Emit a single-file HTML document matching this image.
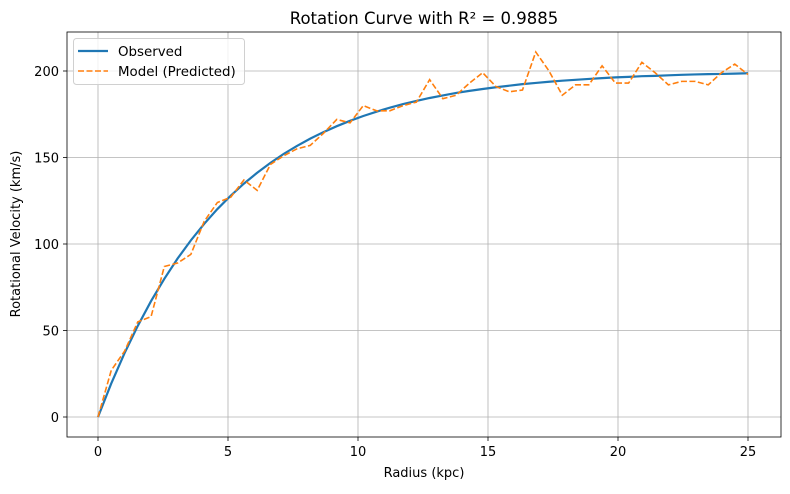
<!DOCTYPE html>
<html><head><meta charset="utf-8"><style>
body{margin:0;background:#fff;font-family:"DejaVu Sans","Liberation Sans",sans-serif}
svg text{font-family:"DejaVu Sans","Liberation Sans",sans-serif;fill:#000}
</style></head><body>
<svg id="chart" width="790" height="490" xmlns="http://www.w3.org/2000/svg">
<rect x="0" y="0" width="790" height="490" fill="#fff"/>
<text x="424" y="24" font-size="16.5" text-anchor="middle">Rotation Curve with R² = 0.9885</text>
<text x="424" y="477" font-size="13" text-anchor="middle">Radius (kpc)</text>
<text x="20" y="234" font-size="13" text-anchor="middle" transform="rotate(-90 20 234)">Rotational Velocity (km/s)</text>
<g id="grid"></g><g id="series"></g><g id="axes"></g>
<g>
<rect x="73.5" y="38.5" width="171" height="46" fill="#fff" fill-opacity="0.8" stroke="#d0d0d0" rx="3"/>
<line x1="78" y1="51" x2="108" y2="51" stroke="#1f77b4" stroke-width="2.2"/>
<text x="118" y="56" font-size="13.4">Observed</text>
<line x1="78" y1="71" x2="108" y2="71" stroke="#ff7f0e" stroke-width="1.6" stroke-dasharray="6,2.5"/>
<text x="118" y="76" font-size="13.4">Model (Predicted)</text>
</g>
</svg>
<script>
const xTicks=[0,5,10,15,20,25];
const yTicks=[0,50,100,150,200];
const observed=[0,19.4,36.9,52.7,67.0,79.9,91.6,102.1,111.6,120.2,127.9,134.9,141.2,146.9,152.1,156.7,160.9,164.7,168.1,171.2,174.0,176.5,178.8,180.9,182.7,184.4,185.9,187.3,188.5,189.6,190.6,191.5,192.4,193.1,193.8,194.4,194.9,195.4,195.9,196.3,196.6,197.0,197.2,197.5,197.8,198.0,198.2,198.3,198.5,198.7];
const model=[0,27,38,55,58,87,89,94,113,124,127,137,131,146,151,155,157,164,172,170,180,177,177,180,182,195,184,186,193,199,191,188,189,211,200,186,192,192,203,193,193,205,199,192,194,194,192,199,204,198];
const rMax=25;
const NS='http://www.w3.org/2000/svg';
const L=67,R=781,T=32,B=437;
const xs=v=>98+v*(748-98)/25;
const ys=v=>417-v*(417-71)/200;
const radius=observed.map((_,i)=>i*rMax/(observed.length-1));
function mk(tag,attrs,parent){const e=document.createElementNS(NS,tag);for(const k in attrs)e.setAttribute(k,attrs[k]);parent.appendChild(e);return e;}
const grid=document.getElementById('grid'),axes=document.getElementById('axes'),ser=document.getElementById('series');
xTicks.forEach(t=>{
 const g=mk('line',{x1:xs(t),x2:xs(t),y1:T,y2:B,stroke:'#b0b0b0','stroke-width':0.8},grid);
 
 
 mk('line',{x1:xs(t),x2:xs(t),y1:B,y2:B+4,stroke:'#000','stroke-width':0.8},axes);
 const tx=mk('text',{x:xs(t),y:B+19,'font-size':13,'text-anchor':'middle'},axes);tx.textContent=t;
 
 
});
yTicks.forEach(t=>{
 const g=mk('line',{x1:L,x2:R,y1:ys(t),y2:ys(t),stroke:'#b0b0b0','stroke-width':0.8},grid);
 
 
 mk('line',{x1:L-4,x2:L,y1:ys(t),y2:ys(t),stroke:'#000','stroke-width':0.8},axes);
 const tx=mk('text',{x:L-8,y:ys(t)+5,'font-size':13,'text-anchor':'end'},axes);tx.textContent=t;
 
 
});
const frame=mk('rect',{x:L,y:T,width:R-L,height:B-T,fill:'none',stroke:'#000','stroke-width':0.8},axes);


const p1=mk('polyline',{points:observed.map((v,i)=>xs(radius[i])+','+ys(v)).join(' '),fill:'none',stroke:'#1f77b4','stroke-width':2.2},ser);


const p2=mk('polyline',{points:model.map((v,i)=>xs(radius[i])+','+ys(v)).join(' '),fill:'none',stroke:'#ff7f0e','stroke-width':1.6,'stroke-dasharray':'6,2.5'},ser);


</script>
</body></html>
